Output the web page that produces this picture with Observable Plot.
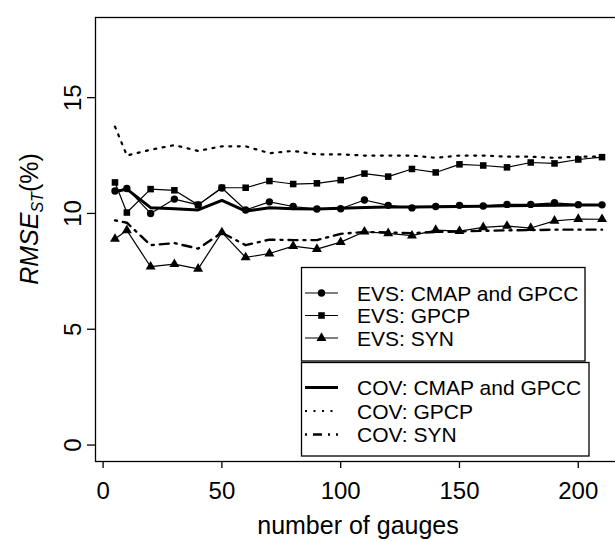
<!DOCTYPE html>
<html><head><meta charset="utf-8">
<script src="https://cdn.jsdelivr.net/npm/d3@7"></script>
<script src="https://cdn.jsdelivr.net/npm/@observablehq/plot@0.6"></script>
<style>
html,body{margin:0;padding:0;background:#fff;overflow:hidden;}
</style></head><body><div id="chart"></div>
<script>
const gauges = [5,10,20,30,40,50,60,70,80,90,100,110,120,130,140,150,160,170,180,190,200,210];
const evsCmapGpcc = [10.97,11.08,10.0,10.62,10.37,11.1,10.15,10.5,10.3,10.19,10.2,10.58,10.35,10.24,10.3,10.35,10.32,10.39,10.39,10.46,10.38,10.37];
const evsGpcp = [11.34,10.04,11.05,11.0,10.37,11.11,11.11,11.4,11.27,11.3,11.44,11.72,11.59,11.92,11.77,12.12,12.07,11.99,12.2,12.16,12.33,12.43];
const evsSyn = [8.9,9.27,7.7,7.81,7.61,9.18,8.1,8.27,8.59,8.46,8.76,9.21,9.14,9.04,9.28,9.24,9.4,9.46,9.37,9.68,9.76,9.75];
const covCmapGpcc = [10.94,11.05,10.25,10.2,10.15,10.56,10.1,10.25,10.2,10.19,10.22,10.26,10.28,10.28,10.29,10.3,10.31,10.33,10.34,10.35,10.36,10.36];
const covGpcp = [13.75,12.5,12.75,12.95,12.7,12.9,12.9,12.6,12.7,12.55,12.55,12.5,12.5,12.5,12.4,12.5,12.5,12.45,12.45,12.4,12.45,12.45];
const covSyn = [9.7,9.6,8.63,8.72,8.48,9.17,8.63,8.87,8.85,8.85,9.12,9.2,9.18,9.15,9.2,9.22,9.25,9.27,9.28,9.3,9.3,9.3];
const xTicks = [0,50,100,150,200];
const yTicks = [0,5,10,15];
const xTitle = "number of gauges";
const evsLabels = ["EVS: CMAP and GPCC","EVS: GPCP","EVS: SYN"];
const evsSymbols = ["circle","square","triangle"];
const covLabels = ["COV: CMAP and GPCC","COV: GPCP","COV: SYN"];

const FONT = "'Liberation Sans', Arial, Helvetica, sans-serif";
const R = 3.7;
const covStyles = [
  {strokeWidth: 3, strokeDasharray: null},
  {strokeWidth: 2.2, strokeDasharray: "2,6.5"},
  {strokeWidth: 2.4, strokeDasharray: "2,6,9,6"}
];
const rows = vals => gauges.map((g, i) => ({x: g, y: vals[i]}));

function lineMark(vals, st) {
  const o = {x: "x", y: "y", stroke: "black", strokeWidth: st.strokeWidth};
  if (st.strokeDasharray) o.strokeDasharray = st.strokeDasharray;
  return Plot.line(rows(vals), o);
}

const chart = Plot.plot({
  width: 615, height: 541,
  marginLeft: 95, marginRight: -6, marginTop: 17, marginBottom: 80,
  style: {fontFamily: FONT, background: "white", color: "black"},
  x: {domain: [-3.2, 218.2]},
  y: {domain: [-0.71, 18.46]},
  marks: [
    Plot.axisX({ticks: xTicks, tickSize: 7, tickPadding: 13, fontSize: 24, label: null, strokeWidth: 1.3, tickFormat: d => String(d)}),
    Plot.axisY({ticks: yTicks, tickSize: 8, tickPadding: 7, tickRotate: -90, fontSize: 24, label: null, strokeWidth: 1.3, tickFormat: d => String(d)}),
    lineMark(covGpcp, covStyles[1]),
    lineMark(covSyn, covStyles[2]),
    lineMark(covCmapGpcc, covStyles[0]),
    Plot.line(rows(evsSyn), {x: "x", y: "y", stroke: "black", strokeWidth: 1.2}),
    Plot.line(rows(evsGpcp), {x: "x", y: "y", stroke: "black", strokeWidth: 1.2}),
    Plot.line(rows(evsCmapGpcc), {x: "x", y: "y", stroke: "black", strokeWidth: 1.2}),
    Plot.dot(rows(evsSyn), {x: "x", y: "y", symbol: "triangle", fill: "black", r: R}),
    Plot.dot(rows(evsGpcp), {x: "x", y: "y", symbol: "square", fill: "black", r: R}),
    Plot.dot(rows(evsCmapGpcc), {x: "x", y: "y", symbol: "circle", fill: "black", r: R}),
    Plot.frame({stroke: "black", strokeWidth: 1.3})
  ]
});
document.getElementById("chart").appendChild(chart);

const svg = d3.select(chart);
// axis titles
svg.append("text")
  .attr("x", 358).attr("y", 534)
  .attr("text-anchor", "middle").attr("font-family", FONT).attr("font-size", 25).attr("fill", "black")
  .text(xTitle);
const yt = svg.append("text")
  .attr("transform", "translate(38,219) rotate(-90)")
  .attr("text-anchor", "middle").attr("font-family", FONT).attr("font-size", 25).attr("fill", "black");
yt.append("tspan").attr("font-style", "italic").text("RMSE");
yt.append("tspan").attr("font-style", "italic").attr("font-size", 16).attr("dy", 5).text("ST");
yt.append("tspan").attr("dy", -5).text("(%)");

// legends
const lg = svg.append("g").attr("font-family", FONT).attr("font-size", 21).attr("text-anchor", "start");
function box(x0, y0, x1, y1) {
  lg.append("rect").attr("x", x0).attr("y", y0).attr("width", x1 - x0).attr("height", y1 - y0)
    .attr("fill", "white").attr("stroke", "black").attr("stroke-width", 1.3);
}
box(301.5, 267.5, 585, 361);
box(301.5, 362.5, 589, 456);
const symOf = s => s === "circle" ? d3.symbolCircle : s === "square" ? d3.symbolSquare : d3.symbolTriangle;
const evsY = [293, 315.5, 338];
evsLabels.forEach((lab, i) => {
  lg.append("line").attr("x1", 305).attr("x2", 338).attr("y1", evsY[i]).attr("y2", evsY[i])
    .attr("stroke", "black").attr("stroke-width", 1.2);
  lg.append("path").attr("transform", `translate(321.5,${evsY[i]})`)
    .attr("d", d3.symbol(symOf(evsSymbols[i]), Math.PI * R * R)())
    .attr("fill", "black");
  lg.append("text").attr("x", 357).attr("y", evsY[i]).attr("dy", "0.36em").attr("fill", "black").text(lab);
});
const covY = [387.5, 411, 434.5];
covLabels.forEach((lab, i) => {
  const l = lg.append("line").attr("x1", 305).attr("x2", 338).attr("y1", covY[i]).attr("y2", covY[i])
    .attr("stroke", "black").attr("stroke-width", covStyles[i].strokeWidth);
  if (covStyles[i].strokeDasharray) l.attr("stroke-dasharray", covStyles[i].strokeDasharray);
  lg.append("text").attr("x", 357).attr("y", covY[i]).attr("dy", "0.36em").attr("fill", "black").text(lab);
});
</script></body></html>
